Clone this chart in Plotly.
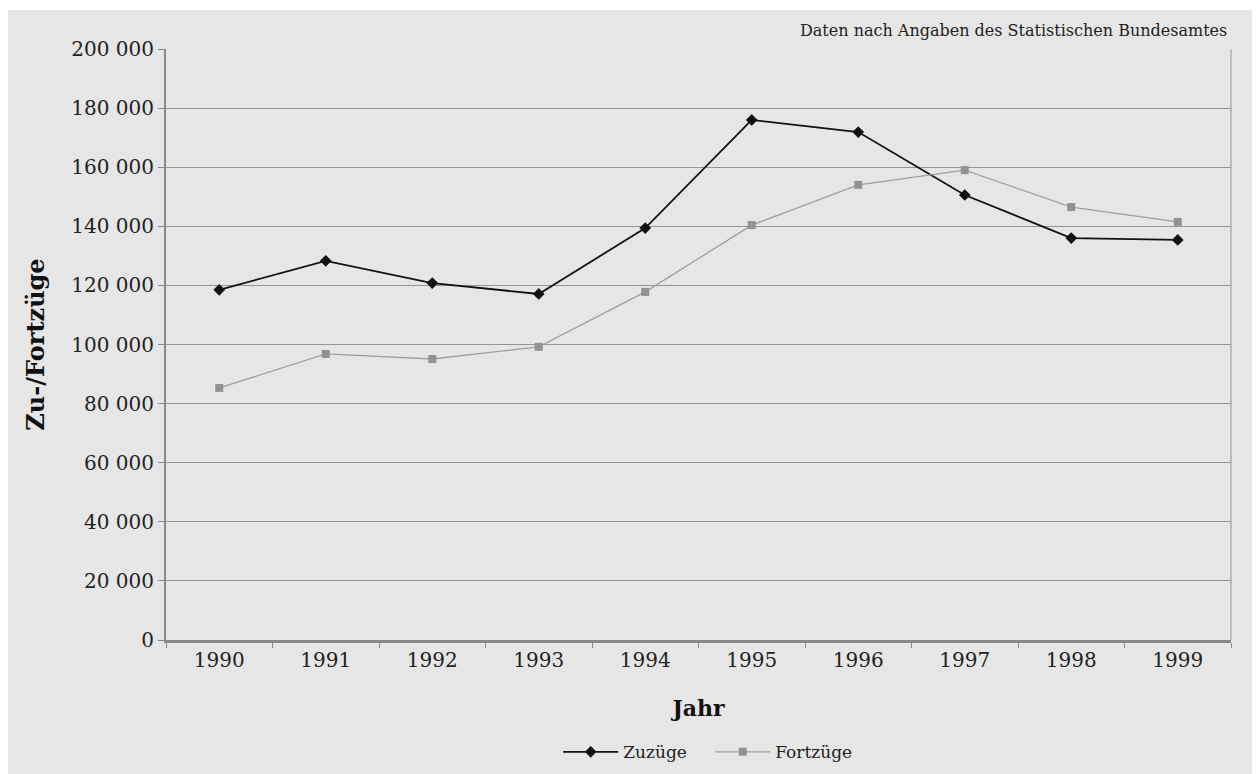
import plotly.graph_objects as go

years = ["1990", "1991", "1992", "1993", "1994", "1995", "1996", "1997", "1998", "1999"]
zuzuege = [118500, 128300, 120800, 117100, 139400, 176000, 171900, 150600, 136000, 135400]
fortzuege = [85300, 96800, 95100, 99200, 117800, 140400, 154000, 159000, 146500, 141500]
y_ticks = [0, 20000, 40000, 60000, 80000, 100000, 120000, 140000, 160000, 180000, 200000]

BG = "#e6e6e6"
FONT = "DejaVu Serif"

fig = go.Figure()
fig.add_trace(go.Scatter(
    x=years, y=zuzuege, name="Zuzüge", mode="lines+markers",
    line=dict(color="#111111", width=1.8),
    marker=dict(symbol="diamond", size=9, color="#111111"),
))
fig.add_trace(go.Scatter(
    x=years, y=fortzuege, name="Fortzüge", mode="lines+markers",
    line=dict(color="#a0a0a0", width=1.3),
    marker=dict(symbol="square", size=8, color="#929292"),
))

fig.add_shape(type="rect", xref="paper", yref="paper",
              x0=-0.1484, x1=1.0197, y0=-0.26, y1=1.066,
              fillcolor=BG, line=dict(width=0), layer="below")

fig.add_annotation(text="Daten nach Angaben des Statistischen Bundesamtes",
                   xref="paper", yref="paper", x=0.998, y=1.032,
                   xanchor="right", yanchor="middle", showarrow=False,
                   font=dict(family=FONT, size=16, color="#222222"))

fig.update_layout(
    width=1260, height=774,
    margin=dict(l=158, r=37, t=41, b=142),
    paper_bgcolor="white",
    plot_bgcolor=BG,
    separators=", ",
    font=dict(family=FONT, color="#222222"),
    showlegend=True,
    legend=dict(orientation="h", x=0.511, xanchor="center", y=-0.19, yanchor="middle",
                font=dict(family=FONT, size=17, color="#222222"),
                bgcolor="rgba(0,0,0,0)", itemwidth=55, entrywidth=82),
    xaxis=dict(
        type="category", range=[-0.5, 9.5],
        tickfont=dict(family=FONT, size=20, color="#222222"),
        ticks="outside", tickson="boundaries", ticklen=5, tickcolor="#888888",
        showline=True, linecolor="#888888", linewidth=2.5, mirror=False,
        showgrid=False,
        title=dict(text="<b>Jahr</b>", font=dict(family=FONT, size=22, color="#111111"), standoff=30),
    ),
    yaxis=dict(
        range=[0, 200000], tickvals=y_ticks, tickformat=",d",
        tickfont=dict(family=FONT, size=20, color="#222222"),
        ticks="outside", ticklen=6, tickcolor="#888888",
        showline=True, linecolor="#888888", linewidth=2, mirror=False,
        showgrid=True, gridcolor="#959595", gridwidth=1,
        zeroline=False,
        title=dict(text="<b>Zu-/Fortzüge</b>", font=dict(family=FONT, size=24, color="#111111"), standoff=20),
    ),
)
# right border
fig.add_shape(type="line", xref="paper", yref="paper", x0=1, x1=1, y0=0, y1=1,
              line=dict(color="#959595", width=1))

fig.write_html("out.html")
